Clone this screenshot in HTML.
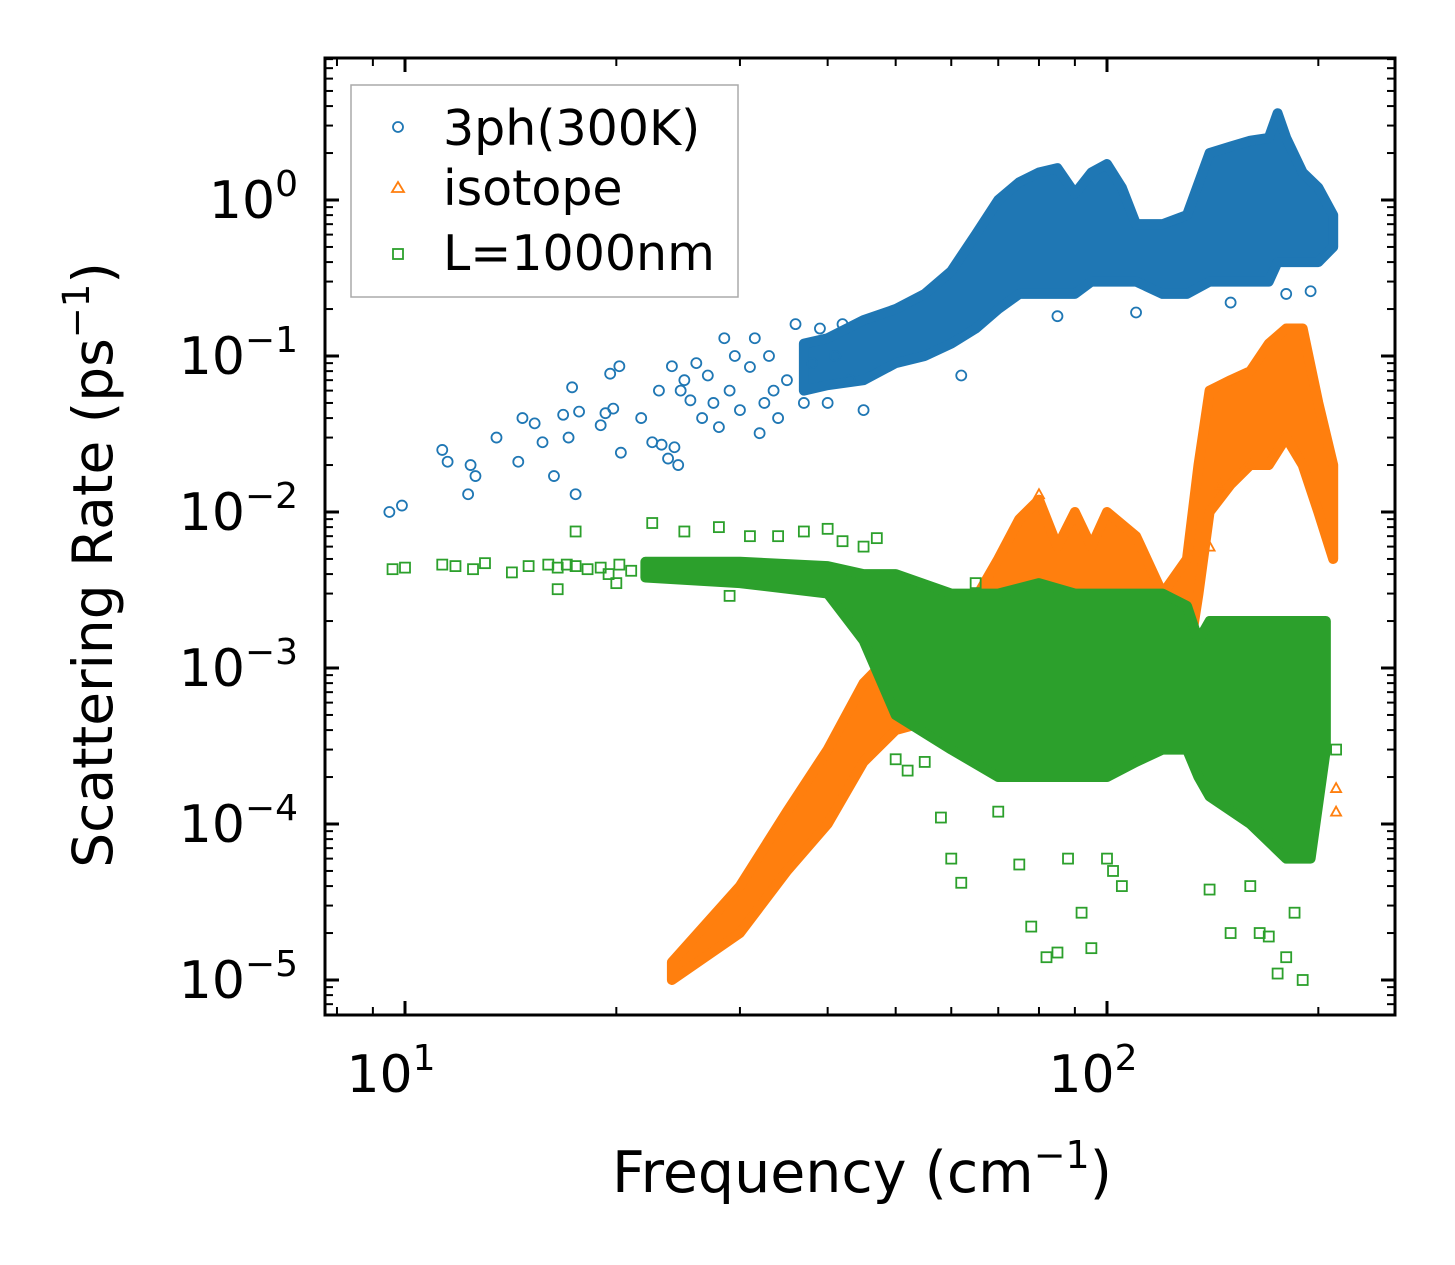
<!DOCTYPE html>
<html><head><meta charset="utf-8"><style>
body{margin:0;background:#fff}
svg{display:block;font-family:"DejaVu Sans","Liberation Sans",sans-serif}
</style></head><body>
<svg id="chart" width="1455" height="1265" viewBox="0 0 1455 1265" xmlns="http://www.w3.org/2000/svg">
<g id="bands"></g>
<g id="pts"></g>
<g id="axes"></g>
<rect x="325" y="58" width="1070" height="957" fill="none" stroke="#000" stroke-width="3"/>
<g>
<rect x="351" y="85" width="387" height="212" fill="#fff" stroke="#aaa" stroke-width="1.5"/>
<circle cx="398" cy="127" r="5" fill="none" stroke="#1f77b4" stroke-width="1.8"/>
<text x="443" y="145" font-size="49">3ph(300K)</text>
<polygon points="398,182 404,192 392,192" fill="none" stroke="#ff7f0e" stroke-width="1.8"/>
<text x="443" y="205" font-size="49">isotope</text>
<rect x="393" y="249" width="10" height="10" fill="none" stroke="#2ca02c" stroke-width="1.8"/>
<text x="443" y="270" font-size="49">L=1000nm</text>
</g>
<text x="862" y="1192" font-size="57" text-anchor="middle">Frequency (cm<tspan font-size="38" dy="-24">−1</tspan><tspan dy="24">)</tspan></text>
<text transform="translate(112,565) rotate(-90)" font-size="55" text-anchor="middle">Scattering Rate (ps<tspan font-size="37" dy="-23">−1</tspan><tspan dy="23">)</tspan></text>
</svg>
<script>
// ---- data ----
const blueX=[9.5,9.9,11.3,11.5,12.3,12.4,12.6,13.5,14.5,14.7,15.3,15.7,16.3,16.8,17.1,17.3,17.5,17.7,19.0,19.3,19.6,19.8,20.2,20.3,21.7,22.5,23.0,23.2,23.7,24.0,24.2,24.5,24.7,25.0,25.5,26,26.5,27,27.5,28,28.5,29,29.5,30,31,31.5,32,32.5,33,33.5,34,35,36,37,38,39,40,41,42,43,45,62,85,110,150,180,195];
const blueY=[0.010,0.011,0.025,0.021,0.013,0.020,0.017,0.030,0.021,0.040,0.037,0.028,0.017,0.042,0.030,0.063,0.013,0.044,0.036,0.043,0.077,0.046,0.086,0.024,0.040,0.028,0.060,0.027,0.022,0.086,0.026,0.020,0.060,0.070,0.052,0.09,0.04,0.075,0.05,0.035,0.13,0.06,0.10,0.045,0.085,0.13,0.032,0.05,0.10,0.06,0.04,0.07,0.16,0.05,0.09,0.15,0.05,0.10,0.16,0.07,0.045,0.075,0.18,0.19,0.22,0.25,0.26];
const blueBandX=[37,40,45,50,55,60,65,70,75,80,85,90,95,100,105,110,120,130,140,150,160,170,175,180,190,200,210];
const blueLo=[0.06,0.065,0.07,0.09,0.1,0.12,0.15,0.2,0.25,0.25,0.25,0.25,0.3,0.3,0.3,0.3,0.25,0.25,0.3,0.3,0.3,0.3,0.4,0.4,0.4,0.4,0.5];
const blueHi=[0.12,0.13,0.17,0.2,0.25,0.35,0.6,1.0,1.3,1.5,1.6,1.1,1.5,1.7,1.2,0.7,0.7,0.8,2.0,2.2,2.4,2.5,3.6,2.5,1.5,1.2,0.8];
const orangeBandX=[24,30,35,40,45,50,60,70,75,80,85,90,95,100,110,120,130,135,140,150,160,170,180,190,200,210];
const orangeLo=[1e-5,2e-5,5e-5,1e-4,2.5e-4,4e-4,5e-4,8e-4,1e-3,1e-3,1e-3,1e-3,1e-3,1e-3,1e-3,1e-3,1e-3,3e-3,1e-2,1.5e-2,2e-2,2e-2,3e-2,2e-2,1e-2,5e-3];
const orangeHi=[1.3e-5,4e-5,1.2e-4,3e-4,8e-4,1.3e-3,1.5e-3,5e-3,9e-3,1.2e-2,6e-3,1e-2,6e-3,1e-2,7e-3,3e-3,5e-3,2e-2,6e-2,7e-2,8e-2,1.2e-1,1.5e-1,1.5e-1,5e-2,2e-2];
const orangeX=[80,140,145,160,212,212];
const orangeY=[1.3e-2,6e-3,1.5e-2,2e-2,1.7e-4,1.2e-4];
const greenBandX=[22,30,40,45,50,60,70,80,90,100,110,120,130,135,140,160,180,195,205];
const greenLo=[3.8e-3,3.5e-3,3e-3,1.5e-3,5e-4,3e-4,2e-4,2e-4,2e-4,2e-4,2.5e-4,3e-4,3e-4,2e-4,1.5e-4,1e-4,6e-5,6e-5,3e-4];
const greenHi=[4.8e-3,4.8e-3,4.5e-3,4e-3,4e-3,3e-3,3e-3,3.5e-3,3e-3,3e-3,3e-3,3e-3,2.5e-3,1.5e-3,2e-3,2e-3,2e-3,2e-3,2e-3];
const greenX=[9.6,10,11.3,11.8,12.5,13.0,14.2,15.0,16.0,16.5,17.0,17.5,18.2,19.0,19.5,20.2,21,16.5,17.5,20,22.5,25,28,29,31,34,37,40,42,45,47,50,52,55,58,60,62,65,70,75,78,82,85,88,92,95,100,102,105,140,150,160,165,170,175,180,185,190,212];
const greenY=[4.3e-3,4.4e-3,4.6e-3,4.5e-3,4.3e-3,4.7e-3,4.1e-3,4.5e-3,4.6e-3,4.4e-3,4.6e-3,4.5e-3,4.3e-3,4.4e-3,4e-3,4.6e-3,4.2e-3,3.2e-3,7.5e-3,3.5e-3,8.5e-3,7.5e-3,8e-3,2.9e-3,7e-3,7e-3,7.5e-3,7.8e-3,6.5e-3,6e-3,6.8e-3,2.6e-4,2.2e-4,2.5e-4,1.1e-4,6e-5,4.2e-5,3.5e-3,1.2e-4,5.5e-5,2.2e-5,1.4e-5,1.5e-5,6e-5,2.7e-5,1.6e-5,6e-5,5e-5,4e-5,3.8e-5,2e-5,4e-5,2e-5,1.9e-5,1.1e-5,1.4e-5,2.7e-5,1e-5,3e-4];
const xTicks=[10,100];
const xTickLabels=["1","2"];
const yTicks=[1,0.1,0.01,0.001,0.0001,0.00001];
const yTickLabels=["0","−1","−2","−3","−4","−5"];
// ---- scales ----
const fx=v=>405+702*(Math.log10(v)-1);
const fy=v=>200-156*Math.log10(v);
const NS="http://www.w3.org/2000/svg";
function mk(tag,attrs,parent){const e=document.createElementNS(NS,tag);for(const k in attrs)e.setAttribute(k,attrs[k]);parent.appendChild(e);return e;}
const bands=document.getElementById('bands'),pts=document.getElementById('pts'),axes=document.getElementById('axes');
function band(xs,lo,hi,col,name){
  const top=xs.map((x,i)=>fx(x)+','+fy(hi[i])),bot=xs.map((x,i)=>fx(x)+','+fy(lo[i])).reverse();
  const p=mk('polygon',{points:top.concat(bot).join(' '),fill:col,stroke:col,'stroke-width':10,'stroke-linejoin':'round'},bands);
  
  
}
band(blueBandX,blueLo,blueHi,'#1f77b4','band-3ph');
band(orangeBandX,orangeLo,orangeHi,'#ff7f0e','band-isotope');
band(greenBandX,greenLo,greenHi,'#2ca02c','band-boundary');
blueX.forEach((x,i)=>{
  const c=mk('circle',{cx:fx(x),cy:fy(blueY[i]),r:5,fill:'none',stroke:'#1f77b4','stroke-width':1.8},pts);
  
  
});
orangeX.forEach((x,i)=>{
  const X=fx(x),Y=fy(orangeY[i]);
  const t=mk('polygon',{points:`${X},${Y-5} ${X+5},${Y+4} ${X-5},${Y+4}`,fill:'none',stroke:'#ff7f0e','stroke-width':1.8},pts);
  
  
});
greenX.forEach((x,i)=>{
  const s=mk('rect',{x:fx(x)-5,y:fy(greenY[i])-5,width:10,height:10,fill:'none',stroke:'#2ca02c','stroke-width':1.8},pts);
  
  
});
// ticks
const L=325,R=1395,T=58,B=1015;
function tick(x1,y1,x2,y2,w){mk('line',{x1,y1,x2,y2,stroke:'#000','stroke-width':w},axes);}
for(let d=0;d<=2;d++)for(let m=1;m<10;m++){const v=m*Math.pow(10,d);const X=fx(v);if(X<L||X>R)continue;const len=m==1?14:8,w=m==1?3:2;tick(X,B,X,B-len,w);tick(X,T,X,T+len,w);}
for(let d=-6;d<=1;d++)for(let m=1;m<10;m++){const v=m*Math.pow(10,d);const Y=fy(v);if(Y<T||Y>B)continue;const len=m==1?14:8,w=m==1?3:2;tick(L,Y,L+len,Y,w);tick(R,Y,R-len,Y,w);}
xTicks.forEach((v,i)=>{
  const t=mk('text',{x:fx(v)-14,y:1092,'font-size':52,'text-anchor':'middle'},axes);
  t.innerHTML='10<tspan font-size="36" dy="-22">'+xTickLabels[i]+'</tspan>';
  
  
});
yTicks.forEach((v,i)=>{
  const t=mk('text',{x:298,y:fy(v)+18,'font-size':52,'text-anchor':'end'},axes);
  t.innerHTML='10<tspan font-size="36" dy="-22">'+yTickLabels[i]+'</tspan>';
  
  
});
</script>
</body></html>
